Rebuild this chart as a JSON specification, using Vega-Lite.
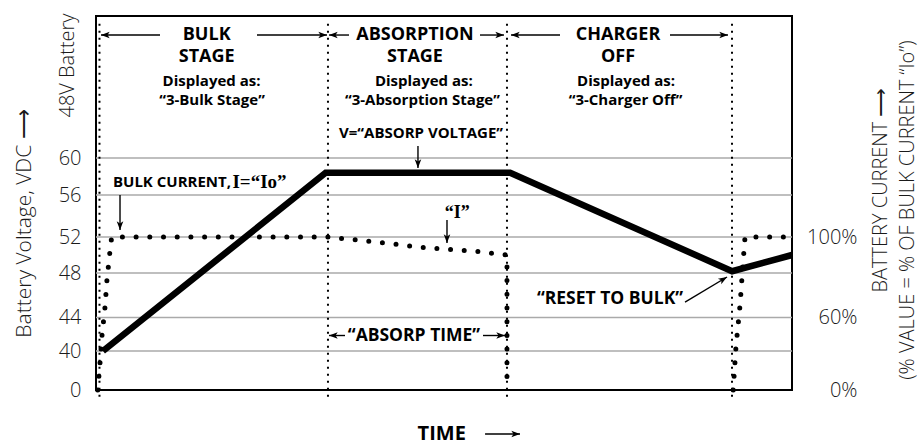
{
  "$schema": "https://vega.github.io/schema/vega-lite/v6.json",
  "width": 696,
  "height": 374,
  "autosize": {"type": "none"},
  "padding": {"left": 96, "top": 16, "right": 129, "bottom": 57},
  "background": "white",
  "config": {"view": {"stroke": "#000", "strokeWidth": 2}, "font": "Open Sans"},
  "layer": [
    {
      "data": {"values": [{"v": 40}, {"v": 44}, {"v": 48}, {"v": 52}, {"v": 56}, {"v": 60}]},
      "mark": {"type": "rule", "color": "#aaaaaa", "strokeWidth": 1.5},
      "encoding": {
        "y": {"field": "v", "type": "quantitative", "axis": null,
          "scale": {"domain": [0, 40, 44, 48, 52, 56, 60, 80], "range": [374, 335, 301.5, 257, 221, 179, 142, 0], "nice": false, "zero": false}}
      }
    },
    {
      "data": {"values": [{"t": 0.5}, {"t": 33.33}, {"t": 59.05}, {"t": 91.38}]},
      "mark": {"type": "rule", "color": "#000", "strokeWidth": 2, "strokeDash": [2, 5]},
      "encoding": {
        "x": {"field": "t", "type": "quantitative", "axis": null, "scale": {"domain": [0, 100], "nice": false, "zero": false}},
        "y": {"datum": 78.9, "type": "quantitative", "axis": null,
          "scale": {"domain": [0, 40, 44, 48, 52, 56, 60, 80], "range": [374, 335, 301.5, 257, 221, 179, 142, 0], "nice": false, "zero": false}},
        "y2": {"datum": -10.3}
      }
    },
    {
      "data": {"values": [
        {"t": 1.0, "v": 40},
        {"t": 33.0, "v": 58.4},
        {"t": 59.5, "v": 58.4},
        {"t": 91.4, "v": 48.2},
        {"t": 100, "v": 50.0}
      ]},
      "mark": {"type": "line", "color": "#000", "strokeWidth": 6.5, "strokeJoin": "miter", "strokeCap": "butt"},
      "encoding": {
        "x": {"field": "t", "type": "quantitative", "axis": null,
          "scale": {"domain": [0, 100], "nice": false, "zero": false}},
        "y": {"field": "v", "type": "quantitative",
          "scale": {"domain": [0, 40, 44, 48, 52, 56, 60, 80], "range": [374, 335, 301.5, 257, 221, 179, 142, 0], "nice": false, "zero": false},
          "axis": {"orient": "left", "values": [0, 40, 44, 48, 52, 56, 60], "domain": false, "ticks": false, "grid": false,
            "labelFont": "Open Sans", "labelFontSize": 20, "labelFontWeight": 300, "labelColor": "#1a1a1a", "labelPadding": 15,
            "title": "Battery Voltage, VDC ⟶", "titleFont": "Open Sans", "titleFontSize": 21, "titleFontWeight": 300, "titleColor": "#1a1a1a",
            "titleAngle": 270, "titleX": -72, "titleY": 207, "titleAlign": "center", "titleBaseline": "middle"}}
      }
    },
    {
      "data": {"values": [
        {"t": 0.72, "v": 77.32, "t2": 9.2, "v2": 77.32},
        {"t": 23.13, "v": 77.32, "t2": 33.19, "v2": 77.32},
        {"t": 33.48, "v": 77.32, "t2": 36.35, "v2": 77.32},
        {"t": 55.17, "v": 77.32, "t2": 58.62, "v2": 77.32},
        {"t": 59.63, "v": 77.32, "t2": 66.67, "v2": 77.32},
        {"t": 82.47, "v": 77.32, "t2": 90.8, "v2": 77.32},
        {"t": 33.48, "v": 41.85, "t2": 35.78, "v2": 41.85},
        {"t": 55.6, "v": 41.85, "t2": 58.76, "v2": 41.85},
        {"t": 3.45, "v": 56.0, "t2": 3.45, "v2": 52.67},
        {"t": 46.26, "v": 61.69, "t2": 46.26, "v2": 58.92},
        {"t": 50.43, "v": 53.62, "t2": 50.43, "v2": 51.33},
        {"t": 84.63, "v": 45.39, "t2": 90.66, "v2": 47.64},
        {"t": 55.9, "v": -45.1, "t2": 60.92, "v2": -45.1}
      ]},
      "mark": {"type": "rule", "color": "#000", "strokeWidth": 1.4},
      "encoding": {
        "x": {"field": "t", "type": "quantitative", "axis": null, "scale": {"domain": [0, 100], "nice": false, "zero": false}},
        "x2": {"field": "t2"},
        "y": {"field": "v", "type": "quantitative", "axis": null,
          "scale": {"domain": [0, 40, 44, 48, 52, 56, 60, 80], "range": [374, 335, 301.5, 257, 221, 179, 142, 0], "nice": false, "zero": false}},
        "y2": {"field": "v2"}
      }
    },
    {
      "data": {"values": [
        {"t": 33.19, "v": 77.32}, {"t": 58.62, "v": 77.32}, {"t": 90.8, "v": 77.32},
        {"t": 58.76, "v": 41.85}, {"t": 60.92, "v": -45.1}
      ]},
      "mark": {"type": "point", "shape": "M0,0 L-1,-0.38 L-0.75,0 L-1,0.38 Z", "filled": true, "color": "#000", "size": 300, "angle": 0, "opacity": 1},
      "encoding": {
        "x": {"field": "t", "type": "quantitative", "axis": null, "scale": {"domain": [0, 100], "nice": false, "zero": false}},
        "y": {"field": "v", "type": "quantitative", "axis": null,
          "scale": {"domain": [0, 40, 44, 48, 52, 56, 60, 80], "range": [374, 335, 301.5, 257, 221, 179, 142, 0], "nice": false, "zero": false}}
      }
    },
    {
      "data": {"values": [
        {"t": 0.72, "v": 77.32}, {"t": 33.48, "v": 77.32}, {"t": 59.63, "v": 77.32}, {"t": 33.48, "v": 41.85}
      ]},
      "mark": {"type": "point", "shape": "M0,0 L-1,-0.38 L-0.75,0 L-1,0.38 Z", "filled": true, "color": "#000", "size": 300, "angle": 180, "opacity": 1},
      "encoding": {
        "x": {"field": "t", "type": "quantitative", "axis": null, "scale": {"domain": [0, 100], "nice": false, "zero": false}},
        "y": {"field": "v", "type": "quantitative", "axis": null,
          "scale": {"domain": [0, 40, 44, 48, 52, 56, 60, 80], "range": [374, 335, 301.5, 257, 221, 179, 142, 0], "nice": false, "zero": false}}
      }
    },
    {
      "data": {"values": [
        {"t": 3.45, "v": 52.67}, {"t": 46.26, "v": 58.92}, {"t": 50.43, "v": 51.33}
      ]},
      "mark": {"type": "point", "shape": "M0,0 L-1,-0.38 L-0.75,0 L-1,0.38 Z", "filled": true, "color": "#000", "size": 300, "angle": 90, "opacity": 1},
      "encoding": {
        "x": {"field": "t", "type": "quantitative", "axis": null, "scale": {"domain": [0, 100], "nice": false, "zero": false}},
        "y": {"field": "v", "type": "quantitative", "axis": null,
          "scale": {"domain": [0, 40, 44, 48, 52, 56, 60, 80], "range": [374, 335, 301.5, 257, 221, 179, 142, 0], "nice": false, "zero": false}}
      }
    },
    {
      "data": {"values": [{"t": 90.66, "v": 47.64}]},
      "mark": {"type": "point", "shape": "M0,0 L-1,-0.38 L-0.75,0 L-1,0.38 Z", "filled": true, "color": "#000", "size": 300, "angle": 329, "opacity": 1},
      "encoding": {
        "x": {"field": "t", "type": "quantitative", "axis": null, "scale": {"domain": [0, 100], "nice": false, "zero": false}},
        "y": {"field": "v", "type": "quantitative", "axis": null,
          "scale": {"domain": [0, 40, 44, 48, 52, 56, 60, 80], "range": [374, 335, 301.5, 257, 221, 179, 142, 0], "nice": false, "zero": false}}
      }
    },
    {
      "data": {"values": [
        {"t": 15.9, "v": 77.32, "label": "BULK"},
        {"t": 15.9, "v": 74.23, "label": "STAGE"},
        {"t": 45.83, "v": 77.32, "label": "ABSORPTION"},
        {"t": 45.83, "v": 74.23, "label": "STAGE"},
        {"t": 75.0, "v": 77.32, "label": "CHARGER"},
        {"t": 75.0, "v": 74.23, "label": "OFF"}
      ]},
      "mark": {"type": "text", "font": "Open Sans", "fontWeight": "bold", "fontSize": 18, "color": "#000", "align": "center", "baseline": "middle"},
      "encoding": {
        "x": {"field": "t", "type": "quantitative", "axis": null, "scale": {"domain": [0, 100], "nice": false, "zero": false}},
        "y": {"field": "v", "type": "quantitative", "axis": null,
          "scale": {"domain": [0, 40, 44, 48, 52, 56, 60, 80], "range": [374, 335, 301.5, 257, 221, 179, 142, 0], "nice": false, "zero": false}},
        "text": {"field": "label"}
      }
    },
    {
      "data": {"values": [
        {"t": 16.6, "v": 70.85, "label": "Displayed as:"},
        {"t": 16.67, "v": 68.17, "label": "“3-Bulk Stage”"},
        {"t": 47.1, "v": 70.85, "label": "Displayed as:"},
        {"t": 46.9, "v": 68.17, "label": "“3-Absorption Stage”"},
        {"t": 76.15, "v": 70.85, "label": "Displayed as:"},
        {"t": 76.08, "v": 68.17, "label": "“3-Charger Off”"},
        {"t": 46.7, "v": 63.52, "label": "V=“ABSORP VOLTAGE”"}
      ]},
      "mark": {"type": "text", "font": "Open Sans", "fontWeight": "bold", "fontSize": 15, "color": "#000", "align": "center", "baseline": "middle"},
      "encoding": {
        "x": {"field": "t", "type": "quantitative", "axis": null, "scale": {"domain": [0, 100], "nice": false, "zero": false}},
        "y": {"field": "v", "type": "quantitative", "axis": null,
          "scale": {"domain": [0, 40, 44, 48, 52, 56, 60, 80], "range": [374, 335, 301.5, 257, 221, 179, 142, 0], "nice": false, "zero": false}},
        "text": {"field": "label"}
      }
    },
    {
      "data": {"values": [
        {"t": 45.69, "v": 41.85, "label": "“ABSORP TIME”"},
        {"t": 73.85, "v": 45.66, "label": "“RESET TO BULK”"}
      ]},
      "mark": {"type": "text", "font": "Open Sans", "fontWeight": "bold", "fontSize": 17.5, "color": "#000", "align": "center", "baseline": "middle"},
      "encoding": {
        "x": {"field": "t", "type": "quantitative", "axis": null, "scale": {"domain": [0, 100], "nice": false, "zero": false}},
        "y": {"field": "v", "type": "quantitative", "axis": null,
          "scale": {"domain": [0, 40, 44, 48, 52, 56, 60, 80], "range": [374, 335, 301.5, 257, 221, 179, 142, 0], "nice": false, "zero": false}},
        "text": {"field": "label"}
      }
    },
    {
      "data": {"values": [{"t": 49.67, "v": -45.1, "label": "TIME"}]},
      "mark": {"type": "text", "font": "Open Sans", "fontWeight": "bold", "fontSize": 20, "color": "#000", "align": "center", "baseline": "middle"},
      "encoding": {
        "x": {"field": "t", "type": "quantitative", "axis": null, "scale": {"domain": [0, 100], "nice": false, "zero": false}},
        "y": {"field": "v", "type": "quantitative", "axis": null,
          "scale": {"domain": [0, 40, 44, 48, 52, 56, 60, 80], "range": [374, 335, 301.5, 257, 221, 179, 142, 0], "nice": false, "zero": false}},
        "text": {"field": "label"}
      }
    },
    {
      "data": {"values": [{"t": 2.44, "v": 57.4, "label": "BULK CURRENT,"}]},
      "mark": {"type": "text", "font": "Open Sans", "fontWeight": "bold", "fontSize": 15, "color": "#000", "align": "left", "baseline": "middle"},
      "encoding": {
        "x": {"field": "t", "type": "quantitative", "axis": null, "scale": {"domain": [0, 100], "nice": false, "zero": false}},
        "y": {"field": "v", "type": "quantitative", "axis": null,
          "scale": {"domain": [0, 40, 44, 48, 52, 56, 60, 80], "range": [374, 335, 301.5, 257, 221, 179, 142, 0], "nice": false, "zero": false}},
        "text": {"field": "label"}
      }
    },
    {
      "data": {"values": [{"t": 19.6, "v": 57.4, "label": "I=“Io”"}]},
      "mark": {"type": "text", "font": "Liberation Serif", "fontWeight": "bold", "fontSize": 19, "color": "#000", "align": "left", "baseline": "middle"},
      "encoding": {
        "x": {"field": "t", "type": "quantitative", "axis": null, "scale": {"domain": [0, 100], "nice": false, "zero": false}},
        "y": {"field": "v", "type": "quantitative", "axis": null,
          "scale": {"domain": [0, 40, 44, 48, 52, 56, 60, 80], "range": [374, 335, 301.5, 257, 221, 179, 142, 0], "nice": false, "zero": false}},
        "text": {"field": "label"}
      }
    },
    {
      "data": {"values": [{"t": 51.9, "v": 54.29, "label": "“I”"}]},
      "mark": {"type": "text", "font": "Liberation Serif", "fontWeight": "bold", "fontSize": 18, "color": "#000", "align": "center", "baseline": "middle"},
      "encoding": {
        "x": {"field": "t", "type": "quantitative", "axis": null, "scale": {"domain": [0, 100], "nice": false, "zero": false}},
        "y": {"field": "v", "type": "quantitative", "axis": null,
          "scale": {"domain": [0, 40, 44, 48, 52, 56, 60, 80], "range": [374, 335, 301.5, 257, 221, 179, 142, 0], "nice": false, "zero": false}},
        "text": {"field": "label"}
      }
    },
    {
      "data": {"values": [
        {"t": -4.02, "v": 73.03, "label": "48V Battery"},
        {"t": 112.79, "v": 56.54, "label": "BATTERY CURRENT ⟶"},
        {"t": 116.6, "v": 54.57, "label": "(% VALUE = % OF BULK CURRENT “Io”)"}
      ]},
      "mark": {"type": "text", "font": "Open Sans", "fontWeight": 300, "fontSize": 20, "color": "#1a1a1a", "align": "center", "baseline": "middle", "angle": 270},
      "encoding": {
        "x": {"field": "t", "type": "quantitative", "axis": null, "scale": {"domain": [0, 100], "nice": false, "zero": false}},
        "y": {"field": "v", "type": "quantitative", "axis": null,
          "scale": {"domain": [0, 40, 44, 48, 52, 56, 60, 80], "range": [374, 335, 301.5, 257, 221, 179, 142, 0], "nice": false, "zero": false}},
        "text": {"field": "label"}
      }
    },
    {
      "data": {"values": [
        {"seg": "A", "t": 0.25, "pct": 0},
        {"seg": "A", "t": 0.57, "pct": 22},
        {"seg": "A", "t": 0.86, "pct": 45},
        {"seg": "A", "t": 1.29, "pct": 65},
        {"seg": "A", "t": 1.58, "pct": 79},
        {"seg": "A", "t": 2.01, "pct": 93},
        {"seg": "A", "t": 2.25, "pct": 100},
        {"seg": "A", "t": 33.3, "pct": 100},
        {"seg": "A", "t": 37.5, "pct": 98.5},
        {"seg": "A", "t": 41.5, "pct": 97},
        {"seg": "A", "t": 47.3, "pct": 94.7},
        {"seg": "A", "t": 55.2, "pct": 92.7},
        {"seg": "A", "t": 59.05, "pct": 91},
        {"seg": "A", "t": 59.05, "pct": 0},
        {"seg": "B", "t": 91.55, "pct": 0},
        {"seg": "B", "t": 91.95, "pct": 36},
        {"seg": "B", "t": 92.53, "pct": 66},
        {"seg": "B", "t": 92.96, "pct": 87},
        {"seg": "B", "t": 93.25, "pct": 100},
        {"seg": "B", "t": 100, "pct": 100}
      ]},
      "mark": {"type": "line", "color": "#000", "strokeWidth": 5, "strokeDash": [0, 13.7], "strokeCap": "round"},
      "encoding": {
        "x": {"field": "t", "type": "quantitative", "axis": null, "scale": {"domain": [0, 100], "nice": false, "zero": false}},
        "y": {"field": "pct", "type": "quantitative",
          "scale": {"domain": [0, 60, 100], "range": [374, 301.5, 221], "nice": false, "zero": false},
          "axis": {"orient": "right", "values": [0, 60, 100], "labelExpr": "datum.value + '%'", "grid": false, "ticks": false, "domain": false,
            "labelAlign": "right", "labelPadding": 65, "labelFont": "Open Sans", "labelFontSize": 20, "labelFontWeight": 300, "labelColor": "#1a1a1a", "title": null}},
        "detail": {"field": "seg"},
        "order": {"value": null}
      }
    }
  ],
  "resolve": {"scale": {"y": "independent"}, "axis": {"y": "independent"}}
}
